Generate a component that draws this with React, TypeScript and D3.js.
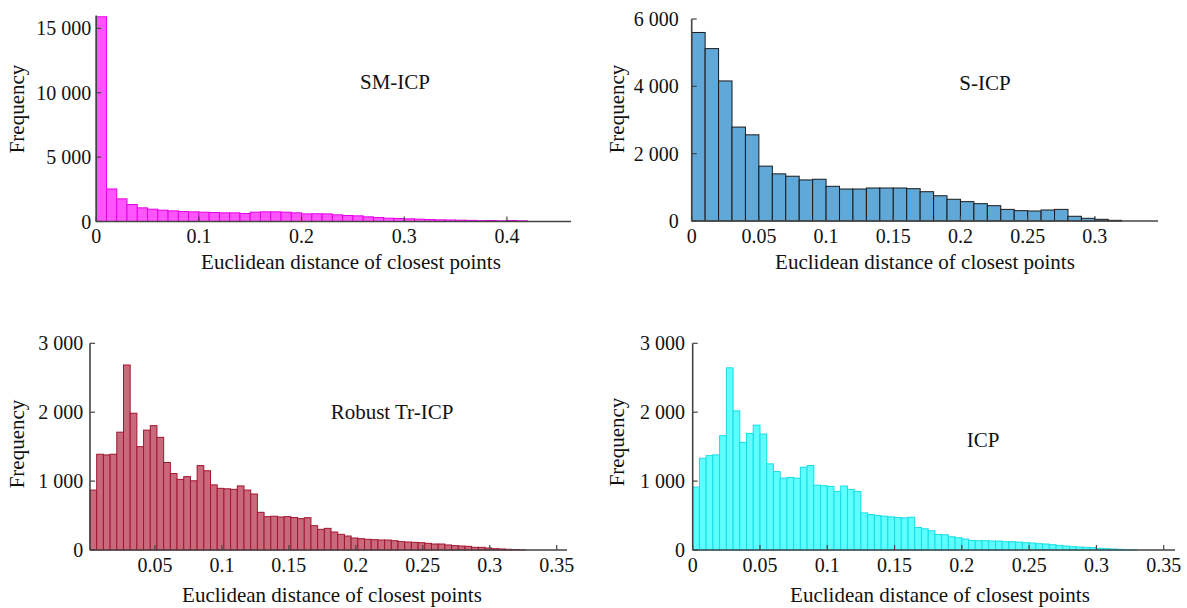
import React from 'react';
import * as d3 from 'd3';

// ---- Data (histogram counts per bin) ----
const smIcpCounts = [15900, 2530, 1760, 1318, 1060, 956, 878, 827, 775, 750, 723, 698, 672, 672, 620, 723, 750, 750, 723, 672, 594, 600, 590, 517, 465, 439, 362, 310, 258, 232, 207, 181, 155, 129, 116, 103, 90, 65, 78, 52, 78, 52];
const sIcpCounts = [5600, 5120, 4160, 2790, 2560, 1630, 1400, 1330, 1220, 1240, 1030, 950, 950, 980, 980, 980, 960, 870, 750, 645, 575, 515, 455, 345, 307, 297, 327, 345, 140, 80, 50, 20];
const robustTrIcpCounts = [870, 1390, 1380, 1390, 1710, 2685, 1985, 1500, 1740, 1805, 1635, 1270, 1110, 1025, 1065, 1005, 1225, 1150, 945, 895, 888, 880, 930, 870, 813, 547, 484, 490, 479, 484, 472, 455, 469, 353, 300, 314, 261, 227, 203, 174, 164, 155, 150, 145, 145, 135, 121, 116, 111, 106, 97, 87, 87, 73, 63, 58, 53, 39, 39, 29, 19, 15, 10, 5, 2];
const icpCounts = [913, 1332, 1370, 1380, 1659, 2644, 2019, 1562, 1692, 1812, 1683, 1250, 1139, 1043, 1053, 1043, 1202, 1226, 942, 933, 923, 851, 928, 880, 851, 538, 514, 500, 490, 481, 471, 466, 476, 327, 308, 279, 226, 221, 192, 178, 159, 139, 135, 135, 130, 130, 120, 120, 115, 106, 101, 91, 87, 77, 67, 58, 48, 43, 38, 34, 24, 19, 14, 10, 5, 3];

// ---- Tick values ----
const smIcpXTicks = [0, 0.1, 0.2, 0.3, 0.4];
const sIcpXTicks = [0, 0.05, 0.1, 0.15, 0.2, 0.25, 0.3];
const robustXTicks = [0.05, 0.1, 0.15, 0.2, 0.25, 0.3, 0.35];
const icpXTicks = [0, 0.05, 0.1, 0.15, 0.2, 0.25, 0.3, 0.35];
const smIcpYTicks = [0, 5000, 10000, 15000];
const sIcpYTicks = [0, 2000, 4000, 6000];
const lowerYTicks = [0, 1000, 2000, 3000];

// ---- Labels ----
const titles = ['SM-ICP', 'S-ICP', 'Robust Tr-ICP', 'ICP'];
const xAxisLabel = 'Euclidean distance of closest points';
const yAxisLabel = 'Frequency';

const FONT = '"Liberation Serif", "Times New Roman", serif';
const locale = d3.formatLocale({ decimal: '.', thousands: ' ', grouping: [3], currency: ['', ''] });
const yFmt = locale.format(',');
const xFmt = (d: number) => String(+d.toFixed(3));

type PanelCfg = {
  counts: number[];
  binStart: number;
  binWidth: number;
  xDomain: [number, number];
  xRange: [number, number];
  yMax: number;
  yRange: [number, number];
  xTicks: number[];
  yTicks: number[];
  fill: string;
  stroke: string;
  title: string;
  titlePos: [number, number];
  xLabelPos: [number, number];
  yLabelPos: [number, number];
  yTickGap: number;
};

const panels: PanelCfg[] = [
  {
    counts: smIcpCounts, binStart: 0, binWidth: 0.01,
    xDomain: [0, 0.4624], xRange: [96.2, 571], yMax: 16000, yRange: [221.5, 15.5],
    xTicks: smIcpXTicks, yTicks: smIcpYTicks, fill: '#ff55ff', stroke: '#e600e6',
    title: titles[0], titlePos: [395, 89], xLabelPos: [351, 269], yLabelPos: [24, 109], yTickGap: 5,
  },
  {
    counts: sIcpCounts, binStart: 0, binWidth: 0.01,
    xDomain: [0, 0.347], xRange: [691.7, 1158], yMax: 6000, yRange: [221, 19],
    xTicks: sIcpXTicks, yTicks: sIcpYTicks, fill: '#60a8d8', stroke: '#1a1a1a',
    title: titles[1], titlePos: [985, 90], xLabelPos: [925, 269], yLabelPos: [624, 109], yTickGap: 13,
  },
  {
    counts: robustTrIcpCounts, binStart: 0.0015, binWidth: 0.005,
    xDomain: [0.0015, 0.3577], xRange: [90, 567], yMax: 3000, yRange: [550, 343.3],
    xTicks: robustXTicks, yTicks: lowerYTicks, fill: '#c96a7c', stroke: '#a3152f',
    title: titles[2], titlePos: [392, 419], xLabelPos: [332, 602], yLabelPos: [24, 444], yTickGap: 6.7,
  },
  {
    counts: icpCounts, binStart: 0, binWidth: 0.005,
    xDomain: [0, 0.3584], xRange: [692.7, 1175], yMax: 3000, yRange: [550, 343.3],
    xTicks: icpXTicks, yTicks: lowerYTicks, fill: '#5effff', stroke: '#14dde6',
    title: titles[3], titlePos: [983, 447], xLabelPos: [940, 602], yLabelPos: [624, 442], yTickGap: 7.7,
  },
];

const AXIS = '#444';

function Panel({ cfg }: { cfg: PanelCfg }) {
  const x = d3.scaleLinear().domain(cfg.xDomain).range(cfg.xRange);
  const y = d3.scaleLinear().domain([0, cfg.yMax]).range(cfg.yRange);
  const [x0, x1] = cfg.xRange;
  const base = cfg.yRange[0];
  return (
    <g>
      {cfg.counts.map((c, i) => {
        const s = cfg.binStart + i * cfg.binWidth;
        const xa = x(s);
        const xb = x(s + cfg.binWidth);
        return (
          <rect key={i} x={xa} y={y(c)} width={xb - xa} height={base - y(c)}
            fill={cfg.fill} stroke={cfg.stroke} strokeWidth={1} />
        );
      })}
      {/* x axis */}
      <line x1={x0} x2={x1} y1={base} y2={base} stroke={AXIS} strokeWidth={1.6} />
      {cfg.xTicks.map((t) => (
        <g key={'x' + t}>
          <line x1={x(t)} x2={x(t)} y1={base} y2={base - 5} stroke={AXIS} strokeWidth={1.2} />
          <text x={x(t)} y={base + 21.5} textAnchor="middle" fontFamily={FONT} fontSize={20} fill="#111">
            {xFmt(t)}
          </text>
        </g>
      ))}
      {/* y axis */}
      <line x1={x0} x2={x0} y1={base} y2={y(cfg.yMax)} stroke={AXIS} strokeWidth={1.6} />
      {cfg.yTicks.map((t) => (
        <g key={'y' + t}>
          <line x1={x0} x2={x0 + 5} y1={y(t)} y2={y(t)} stroke={AXIS} strokeWidth={1.2} />
          <text x={x0 - cfg.yTickGap} y={y(t)} dy="0.35em" textAnchor="end" fontFamily={FONT} fontSize={20} fill="#111">
            {yFmt(t)}
          </text>
        </g>
      ))}
      <text x={cfg.titlePos[0]} y={cfg.titlePos[1]} textAnchor="middle" fontFamily={FONT} fontSize={21} fill="#111">
        {cfg.title}
      </text>
      <text x={cfg.xLabelPos[0]} y={cfg.xLabelPos[1]} textAnchor="middle" fontFamily={FONT} fontSize={21} fill="#111">
        {xAxisLabel}
      </text>
      <text transform={`translate(${cfg.yLabelPos[0]},${cfg.yLabelPos[1]}) rotate(-90)`} textAnchor="middle"
        fontFamily={FONT} fontSize={21} fill="#111">
        {yAxisLabel}
      </text>
    </g>
  );
}

export default function App() {
  return (
    <svg width={1187} height={608} viewBox="0 0 1187 608"
      style={{ position: 'absolute', left: 0, top: 0, background: '#fff' }}>
      <rect x={0} y={0} width={1187} height={608} fill="#fff" />
      {panels.map((p, i) => (
        <Panel key={i} cfg={p} />
      ))}
    </svg>
  );
}
